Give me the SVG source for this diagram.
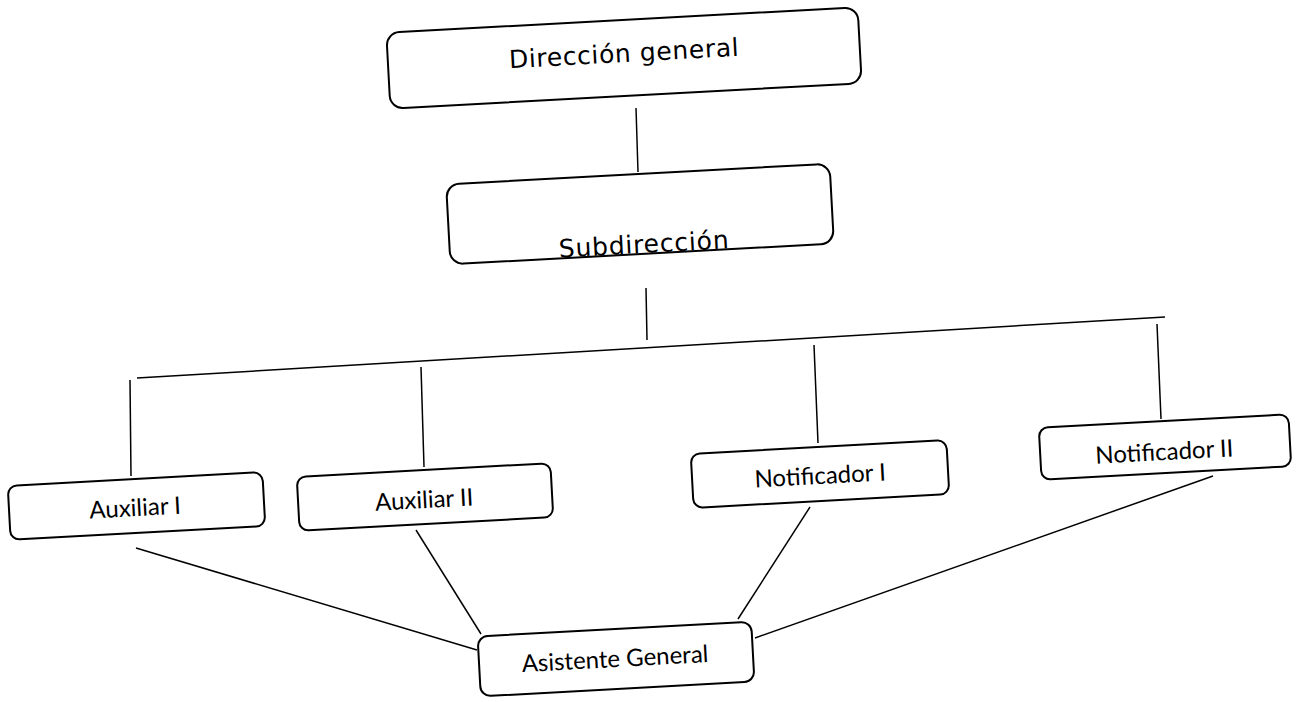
<svg xmlns="http://www.w3.org/2000/svg" width="1305" height="702" viewBox="0 0 1305 702">
<style>
.box{fill:#fff;stroke:#000;stroke-width:2}
.big{font-family:"DejaVu Sans",sans-serif;font-size:25px;fill:#000;text-anchor:middle}
.lbl{font-family:Lato,"Open Sans",sans-serif;font-size:24px;fill:#000;text-anchor:middle}
.ln{stroke:#000;stroke-width:1.5;fill:none}
</style>
<rect width="1305" height="702" fill="#fff"/>
<g id="connectors">
<line class="ln" x1="636" y1="108" x2="638" y2="172"/>
<line class="ln" x1="646" y1="288" x2="647" y2="340"/>
<line class="ln" x1="137" y1="378" x2="1165" y2="317" stroke-width="2.5"/>
<line class="ln" x1="130" y1="380" x2="131" y2="476"/>
<line class="ln" x1="421" y1="367" x2="424" y2="467"/>
<line class="ln" x1="814" y1="345" x2="818" y2="443"/>
<line class="ln" x1="1157" y1="324" x2="1161" y2="419"/>
<line class="ln" x1="136" y1="548" x2="477" y2="650"/>
<line class="ln" x1="416" y1="530" x2="481" y2="634"/>
<line class="ln" x1="810" y1="507" x2="738" y2="619"/>
<line class="ln" x1="1213" y1="476" x2="755" y2="638"/>
</g>
<g id="n-direccion" transform="rotate(-3.1 624 58)">
<rect class="box" x="388" y="20" width="472" height="76" rx="13"/>
<text class="big" x="624" y="62" textLength="230" lengthAdjust="spacing">Dirección general</text>
</g>
<g id="n-subdireccion" transform="rotate(-3.1 640 214)">
<rect class="box" x="448" y="174" width="384" height="80" rx="13"/>
<text class="big" x="642" y="253" textLength="170" lengthAdjust="spacing">Subdirección</text>
</g>
<g id="n-aux1" transform="rotate(-3.1 136 506)">
<rect class="box" x="9" y="479" width="255" height="54" rx="9"/>
<text class="lbl" x="135" y="516">Auxiliar I</text>
</g>
<g id="n-aux2" transform="rotate(-3.1 425 497)">
<rect class="box" x="298" y="470" width="254" height="54" rx="9"/>
<text class="lbl" x="424" y="508">Auxiliar II</text>
</g>
<g id="n-not1" transform="rotate(-3.1 820 474)">
<rect class="box" x="692" y="447" width="256" height="54" rx="9"/>
<text class="lbl" x="820" y="484">Notificador I</text>
</g>
<g id="n-not2" transform="rotate(-3.1 1165 447)">
<rect class="box" x="1040" y="421" width="250" height="52" rx="9"/>
<text class="lbl" x="1164" y="460">Notificador II</text>
</g>
<g id="n-asistente" transform="rotate(-3.1 616 659)">
<rect class="box" x="479" y="629" width="274" height="60" rx="10"/>
<text class="lbl" x="615" y="667">Asistente General</text>
</g>
</svg>
